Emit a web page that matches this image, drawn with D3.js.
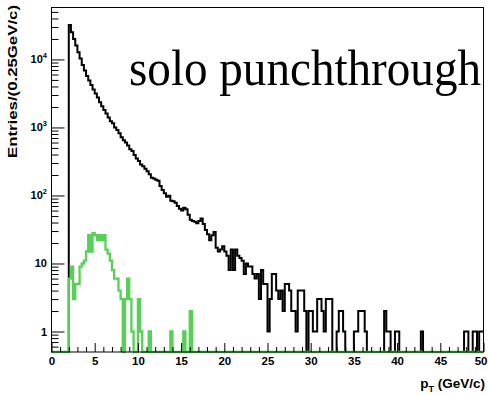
<!DOCTYPE html>
<html>
<head>
<meta charset="utf-8">
<script src="https://cdn.jsdelivr.net/npm/d3@7"></script>
<style>
  body { margin: 0; background: #fff; }
  .lab { font-family: "Liberation Sans", Arial, sans-serif; font-weight: bold; fill: #000; }
</style>
</head>
<body>
<div id="chart"></div>
<script>
// histogram binning (GeV/c)
const binWidth = 0.25;
const firstEdge = 2.0;
const xMin = 0, xMax = 50;

// all tracks, counts per bin starting at 2.0 GeV/c
const allCounts = [
  32000, 25000, 20000, 16000, 12800, 10300, 8300, 6900, 5700, 4900,
  4200, 3600, 3150, 2750, 2350, 2050, 1800, 1600, 1400, 1230,
  1150, 1000, 920, 820, 720, 650, 600, 545, 480, 450,
  395, 350, 320, 285, 270, 248, 228, 205, 182, 178,
  170, 165, 138, 120, 108, 96, 99, 84, 82, 78,
  70, 64, 60, 66, 63, 52, 44, 42, 41, 39,
  42, 46, 38, 31, 27, 22, 26, 29, 17, 15,
  16, 18, 15, 13, 8, 16, 8, 16, 13, 12,
  11, 7, 10, 9, 9, 7, 6, 7, 3, 8,
  5, 5, 1, 3, 7, 7, 4, 3, 4, 2,
  5, 5, 4, 2, 2, 1, 4, 4, 4, 2,
  0, 2, 2, 1, 1, 3, 3, 2, 1, 3,
  3, 3, 0, 0, 1, 2, 2, 1, 0, 0,
  0, 0, 1, 1, 2, 2, 2, 1, 0, 0,
  0, 0, 0, 0, 0, 0, 2, 1, 1, 0,
  0, 1, 1, 0, 0, 0, 0, 0, 0, 0,
  0, 0, 0, 1, 0, 0, 0, 0, 0, 0,
  0, 0, 0, 0, 0, 0, 0, 0, 0, 0,
  0, 0, 0, 1, 1, 0, 0, 1, 1, 0,
  1, 1
];

// solo punchthrough, counts per bin starting at 2.0 GeV/c
const soloCounts = [
  6, 9, 3, 5, 5, 9, 10, 11, 15, 26,
  15, 28, 26, 22, 26, 22, 26, 16, 14, 11,
  8, 6, 6, 4, 3, 0, 3, 6, 3, 1,
  0, 0, 3, 1, 0, 0, 0, 1, 0, 0,
  0, 0, 0, 0, 0, 0, 0, 1, 0, 0,
  0, 0, 0, 1, 0, 0, 2
];

const xMajorTicks = [0, 5, 10, 15, 20, 25, 30, 35, 40, 45, 50];
const yDecades = [1, 10, 100, 1000, 10000];
const yDecadeLabels = [["1", ""], ["10", ""], ["10", "2"], ["10", "3"], ["10", "4"]];

const W = 488, H = 395;
const yMin = 0.5, yMax = 58000;

const svg = d3.select("#chart").append("svg")
  .attr("width", W)
  .attr("height", H);

const x = d3.scaleLinear().domain([xMin, xMax]).range([51.5, 483.5]);
const y = d3.scaleLog().domain([yMin, yMax]).range([352, 7.5]);

// full bin list from 0 to 50, zero outside the filled part
function toBins(counts) {
  const n = Math.round((xMax - xMin) / binWidth);
  const off = Math.round((firstEdge - xMin) / binWidth);
  const pts = [];
  for (let i = 0; i < n; i++) {
    const c = (i >= off && i - off < counts.length) ? counts[i - off] : 0;
    pts.push([xMin + i * binWidth, c]);
  }
  pts.push([xMax, pts[n - 1][1]]);
  return pts;
}

const histLine = d3.line()
  .x(d => x(d[0]))
  .y(d => y(Math.max(d[1], yMin)))
  .curve(d3.curveStepAfter);

// title (slightly stretched vertically like the original canvas)
svg.append("text")
  .attr("transform", "translate(129,85) scale(1,1.1)")
  .attr("textLength", 352)
  .attr("lengthAdjust", "spacingAndGlyphs")
  .style("font-family", "'Liberation Serif', 'Times New Roman', serif")
  .style("font-size", "47px")
  .text("solo punchthrough");

// histograms
svg.append("path")
  .attr("d", histLine(toBins(allCounts)))
  .attr("fill", "none")
  .attr("stroke", "#000")
  .attr("stroke-width", 2);

svg.append("path")
  .attr("d", histLine(toBins(soloCounts)))
  .attr("fill", "none")
  .attr("stroke", "#58d058")
  .attr("stroke-width", 2.3);

// x axis ticks (pointing up)
let xMinor = d3.range(0, 51, 1).filter(v => v % 5 !== 0);
svg.append("g")
  .attr("transform", "translate(0,352)")
  .call(d3.axisBottom(x).tickValues(xMinor).tickSize(-5).tickFormat(""))
  .call(g => g.select(".domain").remove());

svg.append("g")
  .attr("transform", "translate(0,352)")
  .call(d3.axisBottom(x).tickValues(xMajorTicks).tickSize(-9).tickPadding(5).tickFormat(d3.format("d")))
  .call(g => g.select(".domain").remove())
  .call(g => g.selectAll("text").attr("class", "lab").style("font-size", "11.5px")
    .filter(d => d === xMax).attr("text-anchor", "end").attr("x", 3.5));

// y axis ticks (pointing right)
let yMinor = [];
for (let e = -1; e <= 4; e++) {
  for (let m = 2; m <= 9; m++) {
    const v = m * Math.pow(10, e);
    if (v > yMin && v < yMax) yMinor.push(v);
  }
}
svg.append("g")
  .attr("transform", "translate(51.5,0)")
  .call(d3.axisLeft(y).tickValues(yMinor).tickSize(-7).tickFormat(""))
  .call(g => g.select(".domain").remove());

svg.append("g")
  .attr("transform", "translate(51.5,0)")
  .call(d3.axisLeft(y).tickValues(yDecades).tickSize(-13).tickFormat(""))
  .call(g => g.select(".domain").remove());

// decade labels with superscripts
const yl = svg.append("g");
yDecades.forEach((v, i) => {
  const t = yl.append("text")
    .attr("class", "lab")
    .attr("x", 47)
    .attr("y", y(v) + 4)
    .attr("text-anchor", "end")
    .style("font-size", "11px");
  t.append("tspan").text(yDecadeLabels[i][0]);
  if (yDecadeLabels[i][1]) {
    t.append("tspan").attr("dy", -5).style("font-size", "7.5px").text(yDecadeLabels[i][1]);
  }
});

// frame
svg.append("rect")
  .attr("x", 51.5)
  .attr("y", 7.5)
  .attr("width", 432)
  .attr("height", 344.5)
  .attr("fill", "none")
  .attr("stroke", "#000")
  .attr("stroke-width", 1);

// axis titles
const xt = svg.append("text")
  .attr("class", "lab")
  .attr("x", 485)
  .attr("y", 388)
  .attr("text-anchor", "end")
  .style("font-size", "13.5px");
xt.append("tspan").text("p");
xt.append("tspan").attr("dy", 4).style("font-size", "9px").text("T");
xt.append("tspan").attr("dy", -4).text(" (GeV/c)");

svg.append("text")
  .attr("class", "lab")
  .attr("transform", "translate(16.5,5) rotate(-90)")
  .attr("text-anchor", "end")
  .attr("textLength", 153)
  .attr("lengthAdjust", "spacingAndGlyphs")
  .style("font-size", "12px")
  .text("Entries/(0.25GeV/c)");
</script>
</body>
</html>
